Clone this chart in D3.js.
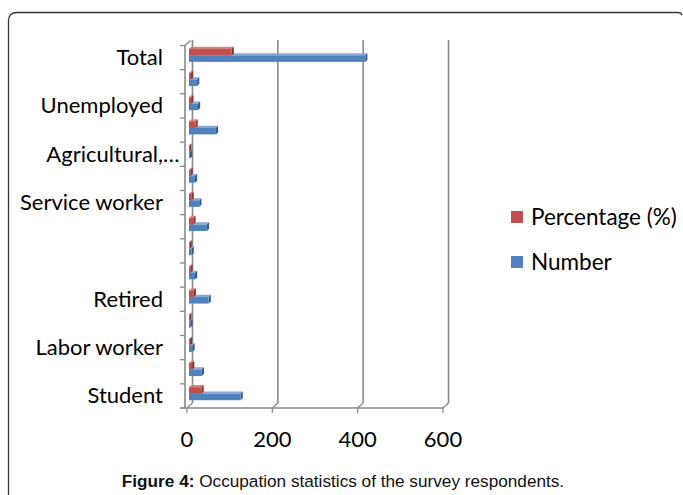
<!DOCTYPE html>
<html>
<head>
<meta charset="utf-8">
<script src="https://cdn.jsdelivr.net/npm/d3@7"></script>
<style>
  html, body { margin: 0; padding: 0; background: #fff; }
  svg { display: block; }
</style>
</head>
<body>
<svg id="chart" width="683" height="495"></svg>
<script>
// Occupation groups, listed from the top row of the chart to the bottom row.
const categories = ["Total", "", "Unemployed", "", "Agricultural,\u2026", "", "Service worker",
                    "", "", "", "Retired", "", "Labor worker", "", "Student"];
const numberValues  = [413, 19, 21, 63, 2, 14, 24, 42, 6, 14, 46, 3, 8, 30, 121];
const percentValues = [100, 4.6, 5.1, 15.3, 0.5, 3.4, 5.8, 10.2, 1.5, 3.4, 11.1, 0.7, 1.9, 7.3, 29.3];
const xTicks = [0, 200, 400, 600];
const seriesNames = ["Percentage (%)", "Number"];

const colors = {
  pct:  { front: "#c0504d", top: "#d9837f", side: "#8f3331" },
  num:  { front: "#4f81bd", top: "#86a9d6", side: "#34598a" }
};

const svg = d3.select("#chart");
const labelFont = "Lato, 'Open Sans', sans-serif";
const labelSize = 22;

// Outer frame (open on the right and bottom)
svg.append("path")
  .attr("d", "M8.5,495 L8.5,21 Q8.5,12.5 17,12.5 L678,12.5 Q681,12.5 682,15")
  .attr("fill", "none").attr("stroke", "#333").attr("stroke-width", 1.3);

// Pseudo-3D geometry: front plane of the axes and the back wall offset
const front = { left: 185, top: 45.5, bottom: 408 };
const back = { dx: 5.5, dy: -5 };
const x = d3.scaleLinear().domain([0, 600]).range([187, 443]);
const y = d3.scaleBand().domain(d3.range(categories.length)).range([front.top, front.bottom]);
const gridColor = "#8a8a8a";

// Back-wall vertical gridlines and floor connectors
const grid = svg.append("g");
xTicks.forEach(v => {
  const xb = x(v) + back.dx;
  grid.append("line")
    .attr("x1", xb).attr("x2", xb)
    .attr("y1", front.top + back.dy - 0.5).attr("y2", front.bottom + back.dy)
    .attr("stroke", gridColor).attr("stroke-width", 1.6);
  grid.append("line")
    .attr("x1", x(v)).attr("x2", xb)
    .attr("y1", front.bottom).attr("y2", front.bottom + back.dy)
    .attr("stroke", gridColor).attr("stroke-width", 1.3);
});

// Front vertical axis with category ticks
grid.append("line")
  .attr("x1", front.left).attr("x2", front.left)
  .attr("y1", front.top).attr("y2", front.bottom)
  .attr("stroke", gridColor).attr("stroke-width", 1.6);
grid.append("line")
  .attr("x1", front.left).attr("x2", front.left + back.dx)
  .attr("y1", front.top).attr("y2", front.top + back.dy)
  .attr("stroke", gridColor).attr("stroke-width", 1.3);
d3.range(categories.length + 1).forEach(i => {
  const yy = front.top + i * y.step();
  grid.append("line")
    .attr("x1", front.left - 5).attr("x2", front.left)
    .attr("y1", yy).attr("y2", yy)
    .attr("stroke", gridColor).attr("stroke-width", 1.3);
});

// Front floor line and value ticks
grid.append("line")
  .attr("x1", front.left - 4).attr("x2", x(600))
  .attr("y1", front.bottom).attr("y2", front.bottom)
  .attr("stroke", gridColor).attr("stroke-width", 1.6);
xTicks.forEach(v => {
  grid.append("line")
    .attr("x1", x(v)).attr("x2", x(v))
    .attr("y1", front.bottom).attr("y2", front.bottom + 5)
    .attr("stroke", gridColor).attr("stroke-width", 1.3);
});

// Bars, drawn on a plane slightly behind the front axis
const xb = d3.scaleLinear().domain([0, 600]).range([189, 445]);
const bd = 2.2;   // bar depth offset
const barH = 6.5;

function bar3d(g, x0, x1, y0, h, c) {
  g.append("path")
    .attr("d", `M${x0},${y0} L${x0 + bd},${y0 - bd} L${x1 + bd},${y0 - bd} L${x1},${y0} Z`)
    .attr("fill", c.top);
  g.append("path")
    .attr("d", `M${x1},${y0} L${x1 + bd},${y0 - bd} L${x1 + bd},${y0 + h - bd} L${x1},${y0 + h} Z`)
    .attr("fill", c.side);
  g.append("rect")
    .attr("x", x0).attr("y", y0).attr("width", Math.max(0, x1 - x0)).attr("height", h)
    .attr("fill", c.front);
}

const bars = svg.append("g");
categories.forEach((_, i) => {
  const c = y(i) + y.bandwidth() / 2;
  bar3d(bars, xb(0), xb(numberValues[i]), c - 2.2, barH, colors.num);
  bar3d(bars, xb(0), xb(percentValues[i]), c - 2.2 - barH, barH, colors.pct);
});

// Category labels; a trailing ellipsis hangs past the label edge
const labelEdge = 163;
const labels = svg.append("g")
  .attr("font-family", labelFont)
  .attr("font-size", labelSize)
  .attr("fill", "#000");
categories.forEach((name, i) => {
  const ly = y(i) + y.bandwidth() / 2 + 7.5;
  const clipped = name.endsWith("\u2026");
  labels.append("text")
    .attr("x", labelEdge).attr("y", ly)
    .attr("text-anchor", "end")
    .text(clipped ? name.slice(0, -1) : name);
  if (clipped) {
    labels.append("text")
      .attr("x", labelEdge).attr("y", ly)
      .text("\u2026");
  }
});

// Value tick labels
svg.append("g").selectAll("text")
  .data(xTicks)
  .join("text")
  .attr("x", d => x(d))
  .attr("y", 447)
  .attr("text-anchor", "middle")
  .attr("font-family", labelFont)
  .attr("font-size", labelSize)
  .attr("fill", "#000")
  .text(d => d);

// Legend
const legend = svg.append("g");
[colors.pct.front, colors.num.front].forEach((col, i) => {
  const ly = 211 + i * 45;
  legend.append("rect")
    .attr("x", 511).attr("y", ly).attr("width", 12).attr("height", 12)
    .attr("fill", col);
  legend.append("text")
    .attr("x", 531).attr("y", ly + 14)
    .attr("font-family", labelFont)
    .attr("font-size", labelSize + 0.5)
    .attr("fill", "#000")
    .text(seriesNames[i]);
});

// Caption
const cap = svg.append("text")
  .attr("x", 343).attr("y", 487)
  .attr("text-anchor", "middle")
  .attr("font-family", "'Liberation Sans', Arial, sans-serif")
  .attr("font-size", 17.2)
  .attr("fill", "#111");
cap.append("tspan").attr("font-weight", "bold").text("Figure 4:");
cap.append("tspan").text(" Occupation statistics of the survey respondents.");
</script>
</body>
</html>
